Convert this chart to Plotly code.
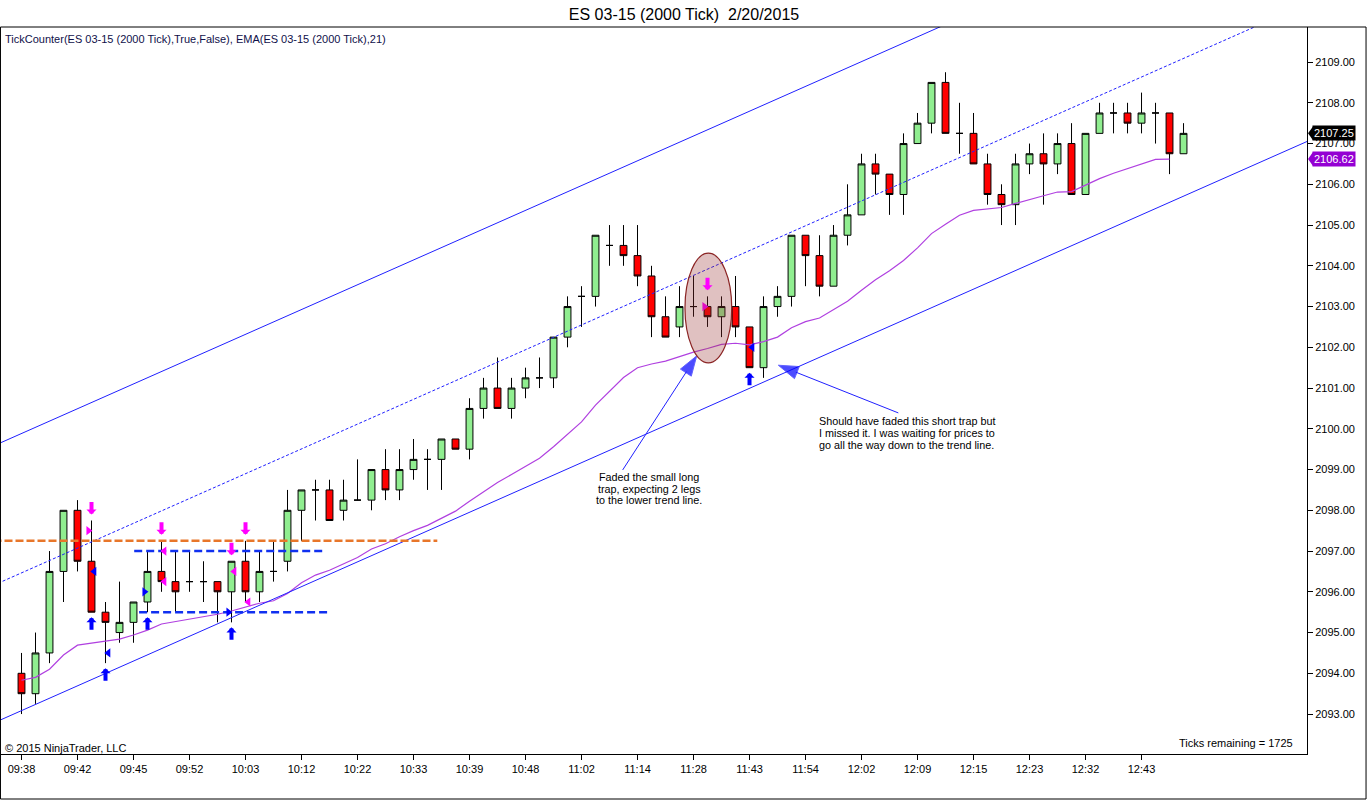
import plotly.graph_objects as go

# ---- chart text ----
TITLE = "ES 03-15 (2000 Tick)  2/20/2015"
HEADER = "TickCounter(ES 03-15 (2000 Tick),True,False), EMA(ES 03-15 (2000 Tick),21)"
COPYRIGHT = "\u00a9 2015 NinjaTrader, LLC"
TICKS_LEFT = "Ticks remaining = 1725"

# ---- bar data (one bar = 2000 ticks) ----
time_labels = ["09:38", "09:42", "09:45", "09:52", "10:03", "10:12", "10:22",
               "10:33", "10:39", "10:48", "11:02", "11:14", "11:28", "11:43",
               "11:54", "12:02", "12:09", "12:15", "12:23", "12:32", "12:43"]
label_every = 4

opens = [2094.0, 2093.5, 2094.5, 2096.5, 2098.0, 2096.75, 2095.5, 2095.0, 2095.25, 2095.75,
         2096.5, 2096.25, 2096.25, 2096.25, 2096.25, 2096.0, 2096.75, 2096.0, 2096.5, 2096.75,
         2098.0, 2098.5, 2098.5, 2098.0, 2098.25, 2098.25, 2099.0, 2098.5, 2099.0, 2099.25,
         2099.25, 2099.75, 2099.5, 2100.5, 2101.0, 2100.5, 2101.0, 2101.25, 2101.25, 2102.25,
         2103.25, 2103.25, 2104.5, 2104.5, 2104.25, 2103.75, 2102.75, 2102.5, 2103.0, 2103.0,
         2102.75, 2103.0, 2102.5, 2101.5, 2103.0, 2103.25, 2104.75, 2104.25, 2103.5, 2104.75,
         2105.25, 2106.5, 2106.25, 2105.75, 2107.0, 2107.5, 2108.5, 2107.25, 2107.25, 2106.5,
         2105.75, 2105.5, 2106.5, 2106.75, 2106.5, 2107.0, 2105.75, 2107.25, 2107.75, 2107.75,
         2107.5, 2107.75, 2107.75, 2106.75]
highs = [2094.5, 2095.0, 2097.0, 2098.0, 2098.25, 2097.75, 2095.75, 2096.25, 2095.75, 2097.0,
         2097.25, 2097.0, 2097.0, 2096.75, 2096.25, 2096.75, 2097.25, 2097.0, 2097.25, 2098.5,
         2098.5, 2098.75, 2098.75, 2098.75, 2099.25, 2099.0, 2099.5, 2099.5, 2099.75, 2099.5,
         2099.75, 2099.75, 2100.75, 2101.25, 2101.75, 2101.25, 2101.5, 2101.75, 2102.25, 2103.25,
         2103.5, 2104.75, 2105.0, 2105.0, 2105.0, 2104.0, 2103.25, 2103.5, 2103.75, 2103.25,
         2103.25, 2103.75, 2102.5, 2103.25, 2103.5, 2104.75, 2104.75, 2104.75, 2105.0, 2106.0,
         2106.75, 2106.75, 2106.25, 2107.25, 2107.75, 2108.5, 2108.75, 2108.0, 2107.75, 2106.75,
         2106.0, 2106.75, 2107.0, 2107.25, 2107.25, 2107.5, 2107.25, 2108.0, 2108.0, 2108.0,
         2108.25, 2108.0, 2107.75, 2107.5]
lows = [2093.0, 2093.25, 2094.25, 2095.75, 2096.5, 2095.5, 2094.25, 2094.75, 2094.75, 2095.5,
        2096.0, 2095.5, 2096.0, 2095.75, 2095.25, 2095.25, 2095.75, 2095.75, 2096.25, 2096.5,
        2097.25, 2097.75, 2097.75, 2097.75, 2098.25, 2098.0, 2098.25, 2098.25, 2098.75, 2098.5,
        2098.5, 2099.5, 2099.25, 2100.25, 2100.5, 2100.25, 2100.75, 2101.0, 2101.0, 2102.0,
        2102.5, 2103.0, 2104.0, 2104.0, 2103.5, 2102.25, 2102.25, 2102.25, 2102.75, 2102.5,
        2102.25, 2102.25, 2101.5, 2101.25, 2102.75, 2103.0, 2103.5, 2103.25, 2103.5, 2104.5,
        2105.25, 2105.75, 2105.25, 2105.25, 2107.0, 2107.25, 2107.25, 2106.75, 2106.5, 2105.5,
        2105.0, 2105.0, 2106.25, 2105.5, 2106.25, 2105.75, 2105.75, 2107.25, 2107.25, 2107.25,
        2107.25, 2107.0, 2106.25, 2106.75]
closes = [2093.5, 2094.5, 2096.5, 2098.0, 2096.75, 2095.5, 2095.25, 2095.25, 2095.75, 2096.5,
          2096.25, 2096.0, 2096.25, 2096.25, 2096.0, 2096.75, 2096.0, 2096.5, 2096.5, 2098.0,
          2098.5, 2098.5, 2097.75, 2098.25, 2098.25, 2099.0, 2098.5, 2099.0, 2099.25, 2099.25,
          2099.75, 2099.5, 2100.5, 2101.0, 2100.5, 2101.0, 2101.25, 2101.25, 2102.25, 2103.0,
          2103.25, 2104.75, 2104.5, 2104.25, 2103.75, 2102.75, 2102.25, 2103.0, 2103.0, 2102.75,
          2103.0, 2102.5, 2101.5, 2103.0, 2103.25, 2104.75, 2104.25, 2103.5, 2104.75, 2105.25,
          2106.5, 2106.25, 2105.75, 2107.0, 2107.5, 2108.5, 2107.25, 2107.25, 2106.5, 2105.75,
          2105.5, 2106.5, 2106.75, 2106.5, 2107.0, 2105.75, 2107.25, 2107.75, 2107.75, 2107.5,
          2107.75, 2107.75, 2106.75, 2107.25]

# EMA(21) as plotted (last, still-forming bar has no value yet)
ema21 = [2093.83, 2093.90, 2094.10, 2094.45, 2094.69, 2094.74, 2094.79, 2094.84, 2094.94, 2095.06,
         2095.21, 2095.27, 2095.33, 2095.39, 2095.45, 2095.53, 2095.62, 2095.72, 2095.78, 2095.96,
         2096.22, 2096.41, 2096.53, 2096.68, 2096.84, 2097.05, 2097.18, 2097.35, 2097.50, 2097.63,
         2097.80, 2097.98, 2098.22, 2098.46, 2098.68, 2098.88, 2099.09, 2099.28, 2099.56, 2099.87,
         2100.17, 2100.58, 2100.93, 2101.26, 2101.50, 2101.59, 2101.66, 2101.77, 2101.88, 2101.97,
         2102.07, 2102.10, 2102.06, 2102.14, 2102.25, 2102.48, 2102.63, 2102.72, 2102.92, 2103.13,
         2103.40, 2103.66, 2103.88, 2104.13, 2104.44, 2104.79, 2105.02, 2105.24, 2105.36, 2105.40,
         2105.43, 2105.53, 2105.63, 2105.72, 2105.81, 2105.82, 2105.98, 2106.14, 2106.27, 2106.38,
         2106.50, 2106.61, 2106.62]

# TickCounter signals
long_signal_bars = [5, 6, 9, 15, 52]
short_signal_bars = [5, 10, 15, 16, 49]
pink_tri_bars = [5, 10, 10, 15, 16, 49]
pink_tri_prices = [2097.5, 2097.0, 2096.25, 2096.5, 2095.75, 2103.0]
pink_tri_dirs = ["right", "left", "left", "left", "left", "right"]
blue_tri_bars = [5, 6, 9, 15, 52]
blue_tri_prices = [2096.5, 2094.5, 2096.0, 2095.5, 2102.0]
blue_tri_dirs = ["left", "left", "right", "right", "left"]

# hand drawn objects
channel_bars = [-2, 93]
channel_upper = [2099.58, 2114.03]
channel_mid = [2096.16, 2110.61]
channel_lower = [2092.78, 2107.23]
orange_level = 2097.25
orange_bars = [-2, 29.7]
range_top = 2097.0
range_top_bars = [8.05, 21.55]
range_bottom = 2095.5
range_bottom_bars = [8.4, 22.0]
ellipse_bars = [47.39, 50.73]
ellipse_prices = [2101.62, 2104.31]

note1_lines = ["Faded the small long", "trap, expecting 2 legs", "to the lower trend line."]
note1_text_at = (44.84, 2098.82)
note1_tail = (42.94, 2098.99)
note1_tip = (48.23, 2101.79)
note2_lines = ["Should have faded this short trap but",
               "I missed it. I was waiting for prices to",
               "go all the way down to the trend line."]
note2_text_at = (63.23, 2100.19)
note2_tail = (62.63, 2100.39)
note2_tip = (54.06, 2101.56)

FONT = "Liberation Sans, Arial, sans-serif"
bars = list(range(len(closes)))

fig = go.Figure()

fig.add_trace(go.Candlestick(
    x=bars, open=opens, high=highs, low=lows, close=closes,
    increasing=dict(fillcolor="#90EE90", line=dict(color="black", width=1)),
    decreasing=dict(fillcolor="#FF0000", line=dict(color="black", width=1)),
    whiskerwidth=0, showlegend=False, hoverinfo="skip"))

fig.add_trace(go.Scatter(x=bars[:len(ema21)], y=ema21, mode="lines",
                         line=dict(color="#B040E0", width=1.2), hoverinfo="skip"))

# channel lines
fig.add_trace(go.Scatter(x=channel_bars, y=channel_upper, mode="lines",
                         line=dict(color="#2020FF", width=1), hoverinfo="skip"))
fig.add_trace(go.Scatter(x=channel_bars, y=channel_mid, mode="lines",
                         line=dict(color="#2020FF", width=1, dash="3px,2px"), hoverinfo="skip"))
fig.add_trace(go.Scatter(x=channel_bars, y=channel_lower, mode="lines",
                         line=dict(color="#2020FF", width=1), hoverinfo="skip"))

# horizontal levels
fig.add_trace(go.Scatter(x=orange_bars, y=[orange_level] * 2, mode="lines",
                         line=dict(color="#E8762A", width=2.5, dash="8px,3px"), hoverinfo="skip"))
fig.add_trace(go.Scatter(x=range_top_bars, y=[range_top] * 2, mode="lines",
                         line=dict(color="#1030F0", width=2.5, dash="8px,4px"), hoverinfo="skip"))
fig.add_trace(go.Scatter(x=range_bottom_bars, y=[range_bottom] * 2, mode="lines",
                         line=dict(color="#1030F0", width=2.5, dash="8px,4px"), hoverinfo="skip"))

# small tick counter triangles
def tri_x(b, d):
    return b - 0.22 if d == "right" else b + 0.2

fig.add_trace(go.Scatter(
    x=[tri_x(b, d) for b, d in zip(pink_tri_bars, pink_tri_dirs)], y=pink_tri_prices,
    mode="markers", hoverinfo="skip",
    marker=dict(symbol=["triangle-" + d for d in pink_tri_dirs], size=8, color="#FF00FF")))
fig.add_trace(go.Scatter(
    x=[tri_x(b, d) for b, d in zip(blue_tri_bars, blue_tri_dirs)], y=blue_tri_prices,
    mode="markers", hoverinfo="skip",
    marker=dict(symbol=["triangle-" + d for d in blue_tri_dirs], size=8, color="#0000FF")))

# callout arrows (line + head pointing along the line)
for tail, tip in [(note1_tail, note1_tip), (note2_tail, note2_tip)]:
    fig.add_trace(go.Scatter(
        x=[tail[0], tip[0]], y=[tail[1], tip[1]], mode="lines+markers", hoverinfo="skip",
        line=dict(color="#2020FF", width=1),
        marker=dict(symbol="arrow", size=[0, 21], angleref="previous", color="#0000FF")))

annotations = []

# signal arrows (block arrows: thick shaft + wide head)
for b in long_signal_bars:
    annotations.append(dict(x=b, y=lows[b], xref="x", yref="y", text="", showarrow=True,
                            ax=0, ay=14, yshift=-5, arrowhead=1, arrowsize=0.42,
                            arrowwidth=4, arrowcolor="#0000FF"))
for b in short_signal_bars:
    annotations.append(dict(x=b, y=highs[b], xref="x", yref="y", text="", showarrow=True,
                            ax=0, ay=-14, yshift=6, arrowhead=1, arrowsize=0.42,
                            arrowwidth=4, arrowcolor="#FF00FF"))

# callout texts
for lines, (bx, py), step in [(note1_lines, note1_text_at, 11.7), (note2_lines, note2_text_at, 12.0)]:
    for i, line in enumerate(lines):
        annotations.append(dict(x=bx, y=py, xref="x", yref="y", text=line, showarrow=False,
                                xanchor="center", yanchor="middle", yshift=-step * i,
                                font=dict(family=FONT, size=10.8, color="black")))

# header / footer texts
annotations += [
    dict(x=0.0015, y=0.9835, xref="paper", yref="paper", text=HEADER, showarrow=False,
         xanchor="left", yanchor="middle", font=dict(family=FONT, size=11, color="#10104A")),
    dict(x=0.0015, y=0.0083, xref="paper", yref="paper", text=COPYRIGHT, showarrow=False,
         xanchor="left", yanchor="middle", font=dict(family=FONT, size=11, color="black")),
    dict(x=0.9908, y=0.0151, xref="paper", yref="paper", text=TICKS_LEFT, showarrow=False,
         xanchor="right", yanchor="middle", font=dict(family=FONT, size=11, color="black")),
]

# price flags on the axis
shapes = []
for price, col in [(closes[-1], "black"), (ema21[-1], "#9400D3")]:
    annotations.append(dict(x=1.0203, y=price, xref="paper", yref="y", text=f"{price:.2f}",
                            showarrow=False, xanchor="center", yanchor="middle",
                            bgcolor=col, borderpad=1,
                            font=dict(family=FONT, size=11, color="white")))
    shapes.append(dict(type="path", xref="paper", yref="y", layer="above",
                       path=f"M 1.0008 {price} L 1.0046 {price + 0.17} L 1.0046 {price - 0.17} Z",
                       fillcolor=col, line=dict(width=0)))

# ellipse around the trap bars
shapes.append(dict(type="circle", xref="x", yref="y", layer="above",
                   x0=ellipse_bars[0], x1=ellipse_bars[1],
                   y0=ellipse_prices[0], y1=ellipse_prices[1],
                   fillcolor="rgba(153,51,51,0.3)", line=dict(color="#8B2525", width=1.2)))

# outer panel frame
shapes.append(dict(type="rect", xref="paper", yref="paper", x0=-0.0004, x1=1.0452,
                   y0=-0.0619, y1=1.0, line=dict(color="black", width=1), layer="above"))

fig.update_layout(
    width=1368, height=800,
    margin=dict(l=1, r=61, t=27, b=46),
    paper_bgcolor="white", plot_bgcolor="white",
    showlegend=False,
    title=dict(text=TITLE, x=0.5, xref="container", xanchor="center",
               y=0.9825, yref="container", yanchor="middle",
               font=dict(family=FONT, size=16, color="black")),
    font=dict(family=FONT, size=11, color="black"),
    annotations=annotations,
    shapes=shapes,
    xaxis=dict(range=[-1.464, 91.82], tickvals=bars[::label_every][:len(time_labels)],
               ticktext=time_labels, ticks="outside", ticklen=5, tickcolor="black",
               showline=True, linecolor="black", linewidth=1, showgrid=False,
               zeroline=False, rangeslider=dict(visible=False),
               tickfont=dict(family=FONT, size=11, color="black")),
    yaxis=dict(side="right", range=[2092.02, 2109.86], tick0=2093, dtick=1,
               tickformat=".2f", ticks="outside", ticklen=5, tickcolor="black",
               showline=True, linecolor="black", linewidth=1, showgrid=False,
               zeroline=False, tickfont=dict(family=FONT, size=11, color="black")),
)

fig.write_html("out.html", config={"displayModeBar": False},
               post_script="document.body.style.margin='0';")
